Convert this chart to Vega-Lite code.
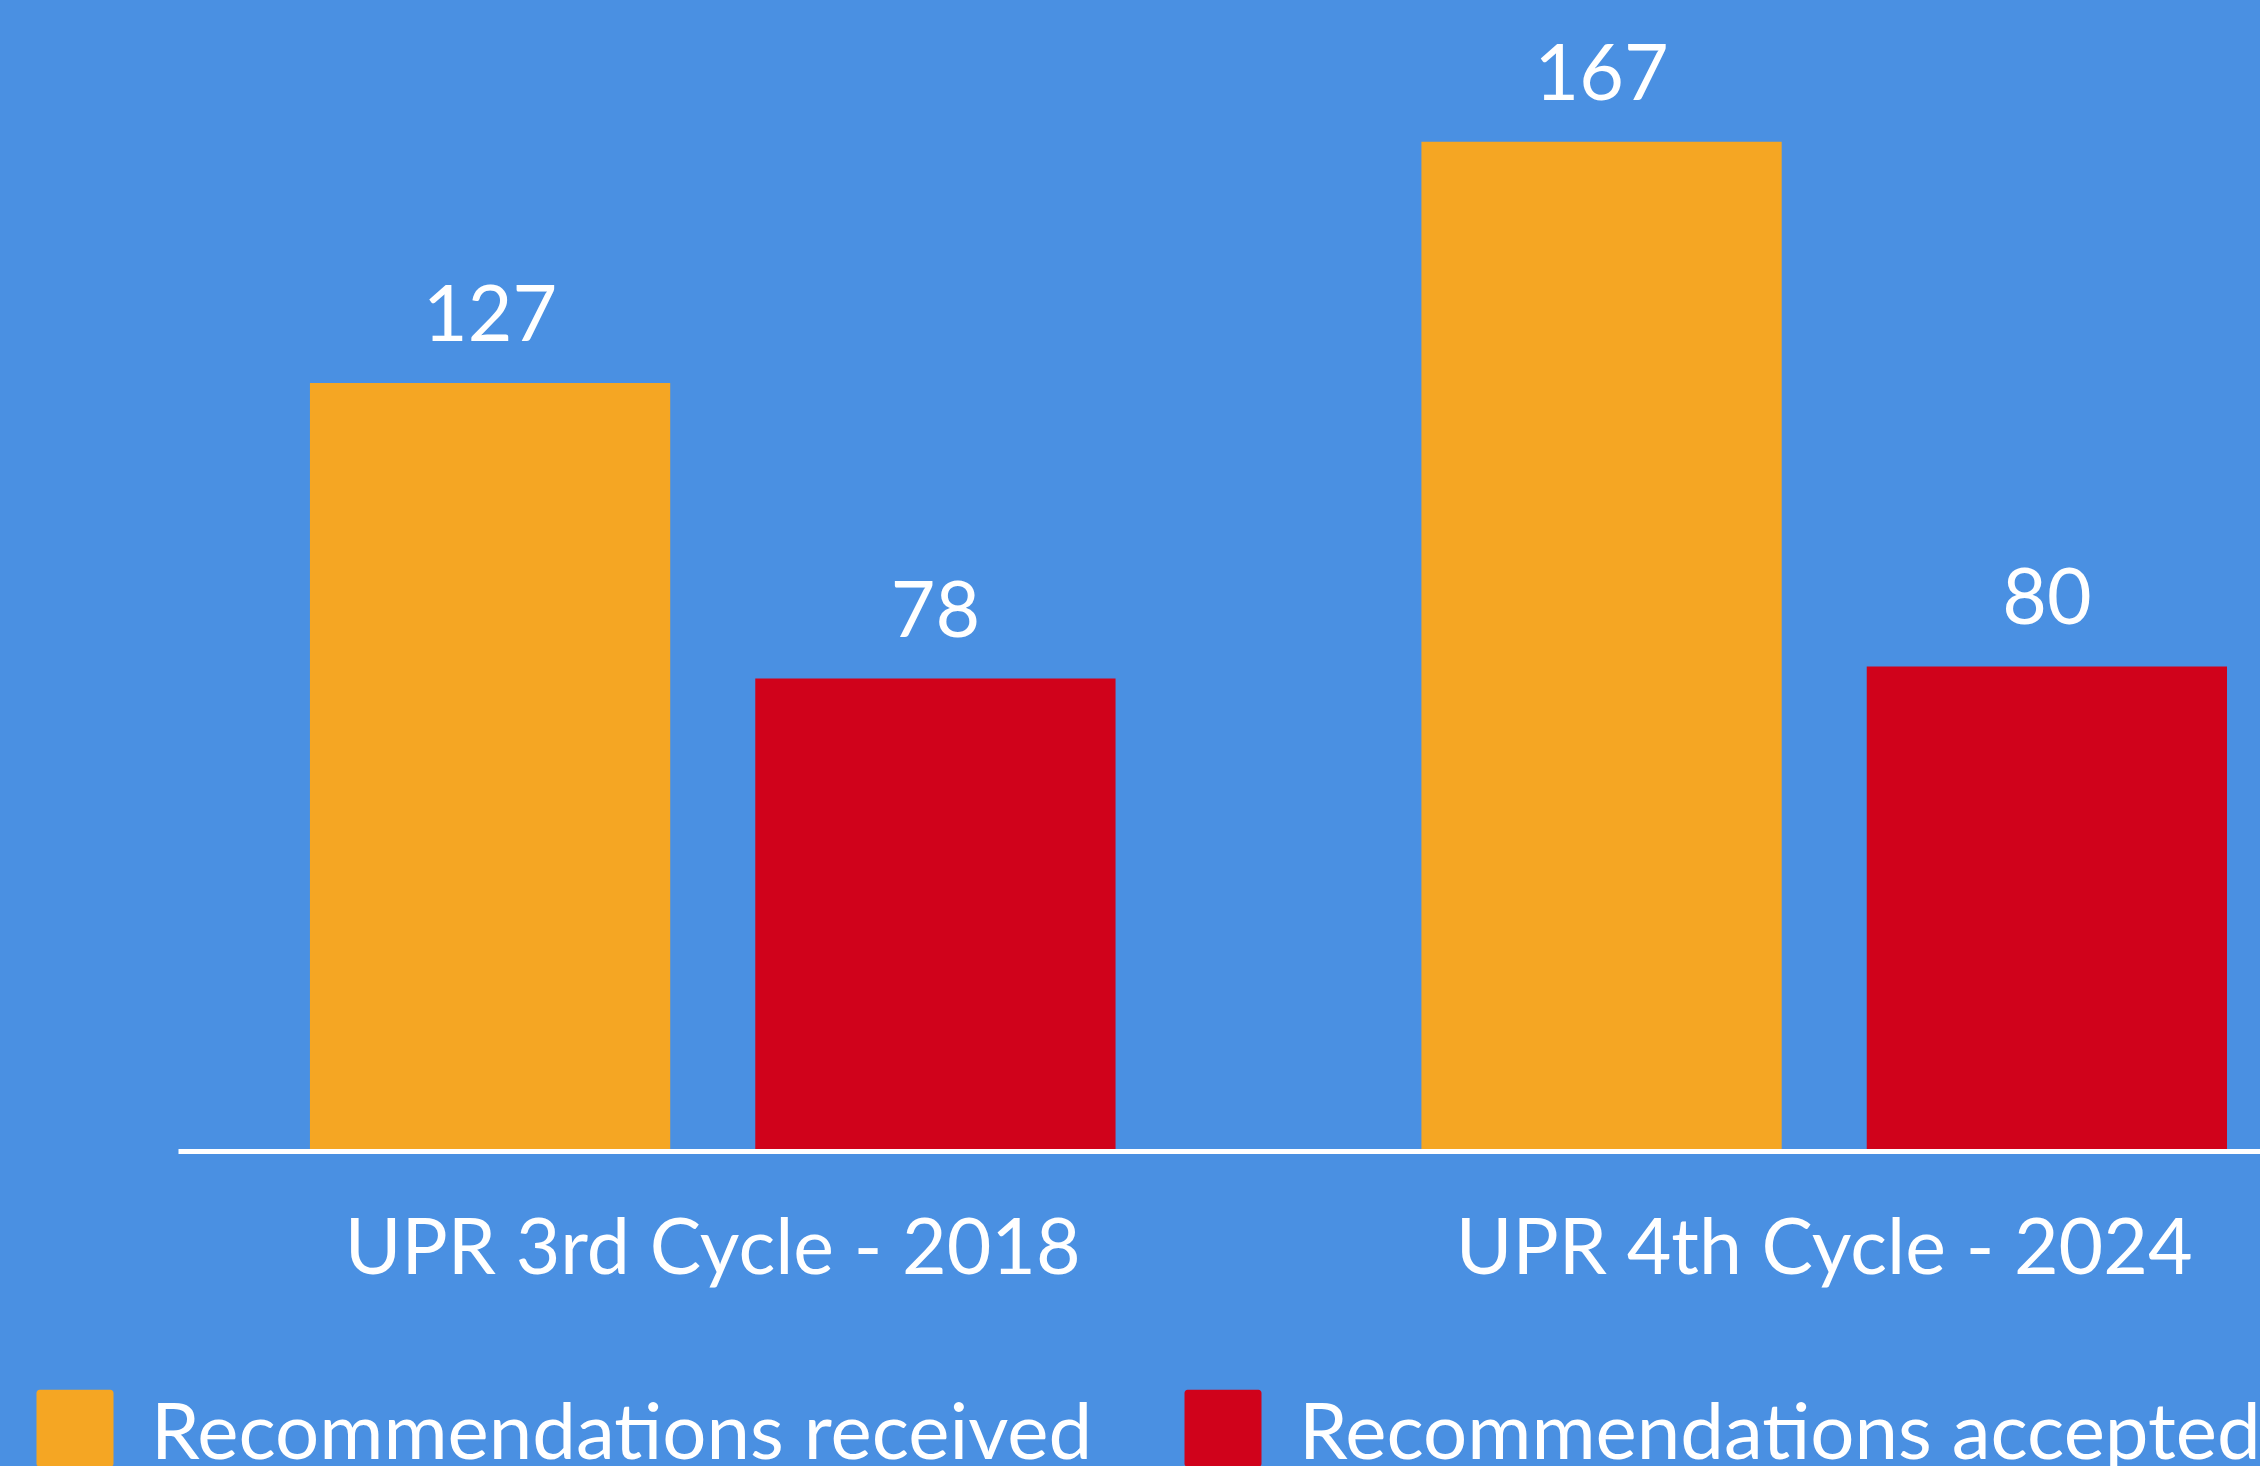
{
  "$schema": "https://vega.github.io/schema/vega-lite/v6.json",
  "width": 2082,
  "height": 1149,
  "autosize": {"type": "none"},
  "padding": {"left": 178, "top": 0, "right": 0, "bottom": 317},
  "background": "#4A90E2",
  "config": {"view": {"stroke": null}, "font": "Lato"},
  "data": {
    "values": [
      {"cycle": "UPR 3rd Cycle - 2018", "series": "Recommendations received", "value": 127},
      {"cycle": "UPR 3rd Cycle - 2018", "series": "Recommendations accepted", "value": 78},
      {"cycle": "UPR 4th Cycle - 2024", "series": "Recommendations received", "value": 167},
      {"cycle": "UPR 4th Cycle - 2024", "series": "Recommendations accepted", "value": 80}
    ]
  },
  "encoding": {
    "x": {
      "field": "cycle",
      "type": "nominal",
      "sort": null,
      "scale": {"paddingInner": 0.2752, "paddingOuter": 0.0742, "align": 0.8},
      "axis": {
        "title": null,
        "ticks": false,
        "tickSize": 0,
        "domainColor": "white",
        "domainWidth": 5,
        "domainCap": "butt",
        "offset": 2,
        "labelFont": "Lato",
        "labelFontSize": 77,
        "labelColor": "white",
        "labelPadding": 122,
        "labelBaseline": "alphabetic",
        "labelAngle": 0,
        "labelLimit": 2000
      }
    },
    "xOffset": {
      "field": "series",
      "type": "nominal",
      "sort": ["Recommendations received", "Recommendations accepted"],
      "scale": {"paddingInner": 0.191, "paddingOuter": 0}
    },
    "y": {
      "field": "value",
      "type": "quantitative",
      "scale": {"domain": [0, 190.5], "nice": false, "zero": true},
      "axis": null
    }
  },
  "layer": [
    {
      "mark": {"type": "bar"},
      "encoding": {
        "color": {
          "field": "series",
          "type": "nominal",
          "scale": {
            "domain": ["Recommendations received", "Recommendations accepted"],
            "range": ["#F5A623", "#D0021B"]
          },
          "legend": {
            "orient": "none",
            "legendX": -142,
            "legendY": 1397,
            "direction": "horizontal",
            "title": null,
            "symbolType": "M-0.92,-1.2H0.92A0.08,0.08 0 0 1 1,-1.12V0.72A0.08,0.08 0 0 1 0.92,0.8H-0.92A0.08,0.08 0 0 1 -1,0.72V-1.12A0.08,0.08 0 0 1 -0.92,-1.2Z",
            "symbolSize": 5929,
            "symbolStrokeWidth": 0,
            "symbolOpacity": 1,
            "labelFont": "Lato",
            "labelFontSize": 78,
            "labelColor": "white",
            "labelOffset": 37,
            "columnPadding": 91,
            "labelLimit": 2000,
            "padding": 0
          }
        }
      }
    },
    {
      "mark": {"type": "text", "dy": -42, "baseline": "alphabetic", "fontSize": 77, "color": "white", "font": "Lato"},
      "encoding": {"text": {"field": "value", "type": "quantitative"}}
    }
  ]
}
